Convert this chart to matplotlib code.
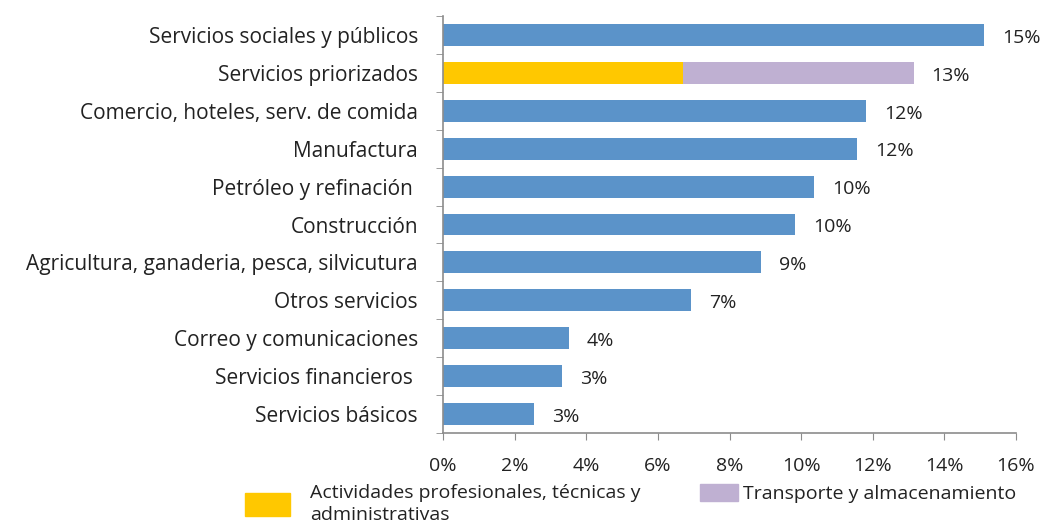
import matplotlib.pyplot as plt
from matplotlib.patches import Patch

# Sector shares, top to bottom
sectores = ['Servicios sociales y públicos', 'Servicios priorizados',
            'Comercio, hoteles, serv. de comida', 'Manufactura',
            'Petróleo y refinación ', 'Construcción',
            'Agricultura, ganaderia, pesca, silvicutura', 'Otros servicios',
            'Correo y comunicaciones', 'Servicios financieros ',
            'Servicios básicos']
valores = [15.10, None, 11.82, 11.55, 10.37, 9.84, 8.87, 6.92, 3.52, 3.32, 2.55]

# Servicios priorizados is split into two stacked parts
priorizado_prof = 6.70
priorizado_transp = 6.44

azul = '#5B93C9'
amarillo = '#FFC800'
lila = '#BFB0D2'
gris = '#8C8C8C'
texto = '#222222'

plt.rcParams['font.family'] = ['Open Sans', 'DejaVu Sans']

fig = plt.figure(figsize=(10.47, 5.25), dpi=100)
ax = fig.add_axes([443 / 1047, 1 - 433 / 525, 573 / 1047, 417 / 525])

pos = list(range(len(sectores)))
alto = 0.58
for i, v in enumerate(valores):
    if v is None:
        ax.barh(i, priorizado_prof, height=alto, color=amarillo)
        ax.barh(i, priorizado_transp, left=priorizado_prof, height=alto, color=lila)
        total = priorizado_prof + priorizado_transp
    else:
        ax.barh(i, v, height=alto, color=azul)
        total = v
    ax.annotate(f'{total:.0f}%', (total, i), xytext=(13, -2),
                textcoords='offset points', va='center', ha='left',
                fontsize=14, color=texto)

ax.set_xlim(0, 16)
ax.set_ylim(len(sectores) - 0.5, -0.5)
ax.set_xticks(range(0, 17, 2))
ax.set_xticklabels([f'{t}%' for t in range(0, 17, 2)], fontsize=14, color=texto)
ax.set_yticks(pos)
ax.set_yticklabels(sectores, fontsize=15, color=texto)
ax.set_yticks([p - 0.5 for p in pos] + [len(sectores) - 0.5], minor=True)
ax.tick_params(axis='y', which='major', length=0, pad=18)
ax.tick_params(axis='y', which='minor', length=5, color=gris, direction='out')
ax.tick_params(axis='x', length=5, color=gris, pad=12)

for s in ['top', 'right']:
    ax.spines[s].set_visible(False)
for s in ['left', 'bottom']:
    ax.spines[s].set_color(gris)
    ax.spines[s].set_linewidth(1.2)

# Legend entries placed separately under the axis
leg1 = fig.legend(handles=[Patch(color=amarillo,
                                 label='Actividades profesionales, técnicas y\nadministrativas')],
                  loc='upper left', bbox_to_anchor=(245 / 1047, 1 - 484 / 525),
                  frameon=False, fontsize=14, handlelength=2.3, handleheight=1.4,
                  handletextpad=1.05, borderpad=0, borderaxespad=0, labelcolor=texto)
for t in leg1.get_texts():
    t.set_linespacing(1.3)
leg2 = fig.legend(handles=[Patch(color=lila, label='Transporte y almacenamiento')],
                  loc='upper left', bbox_to_anchor=(700 / 1047, 1 - 484 / 525),
                  frameon=False, fontsize=14, handlelength=1.95, handleheight=0.95,
                  handletextpad=0.25, borderpad=0, borderaxespad=0, labelcolor=texto)

fig.savefig('out.png', dpi=100)
